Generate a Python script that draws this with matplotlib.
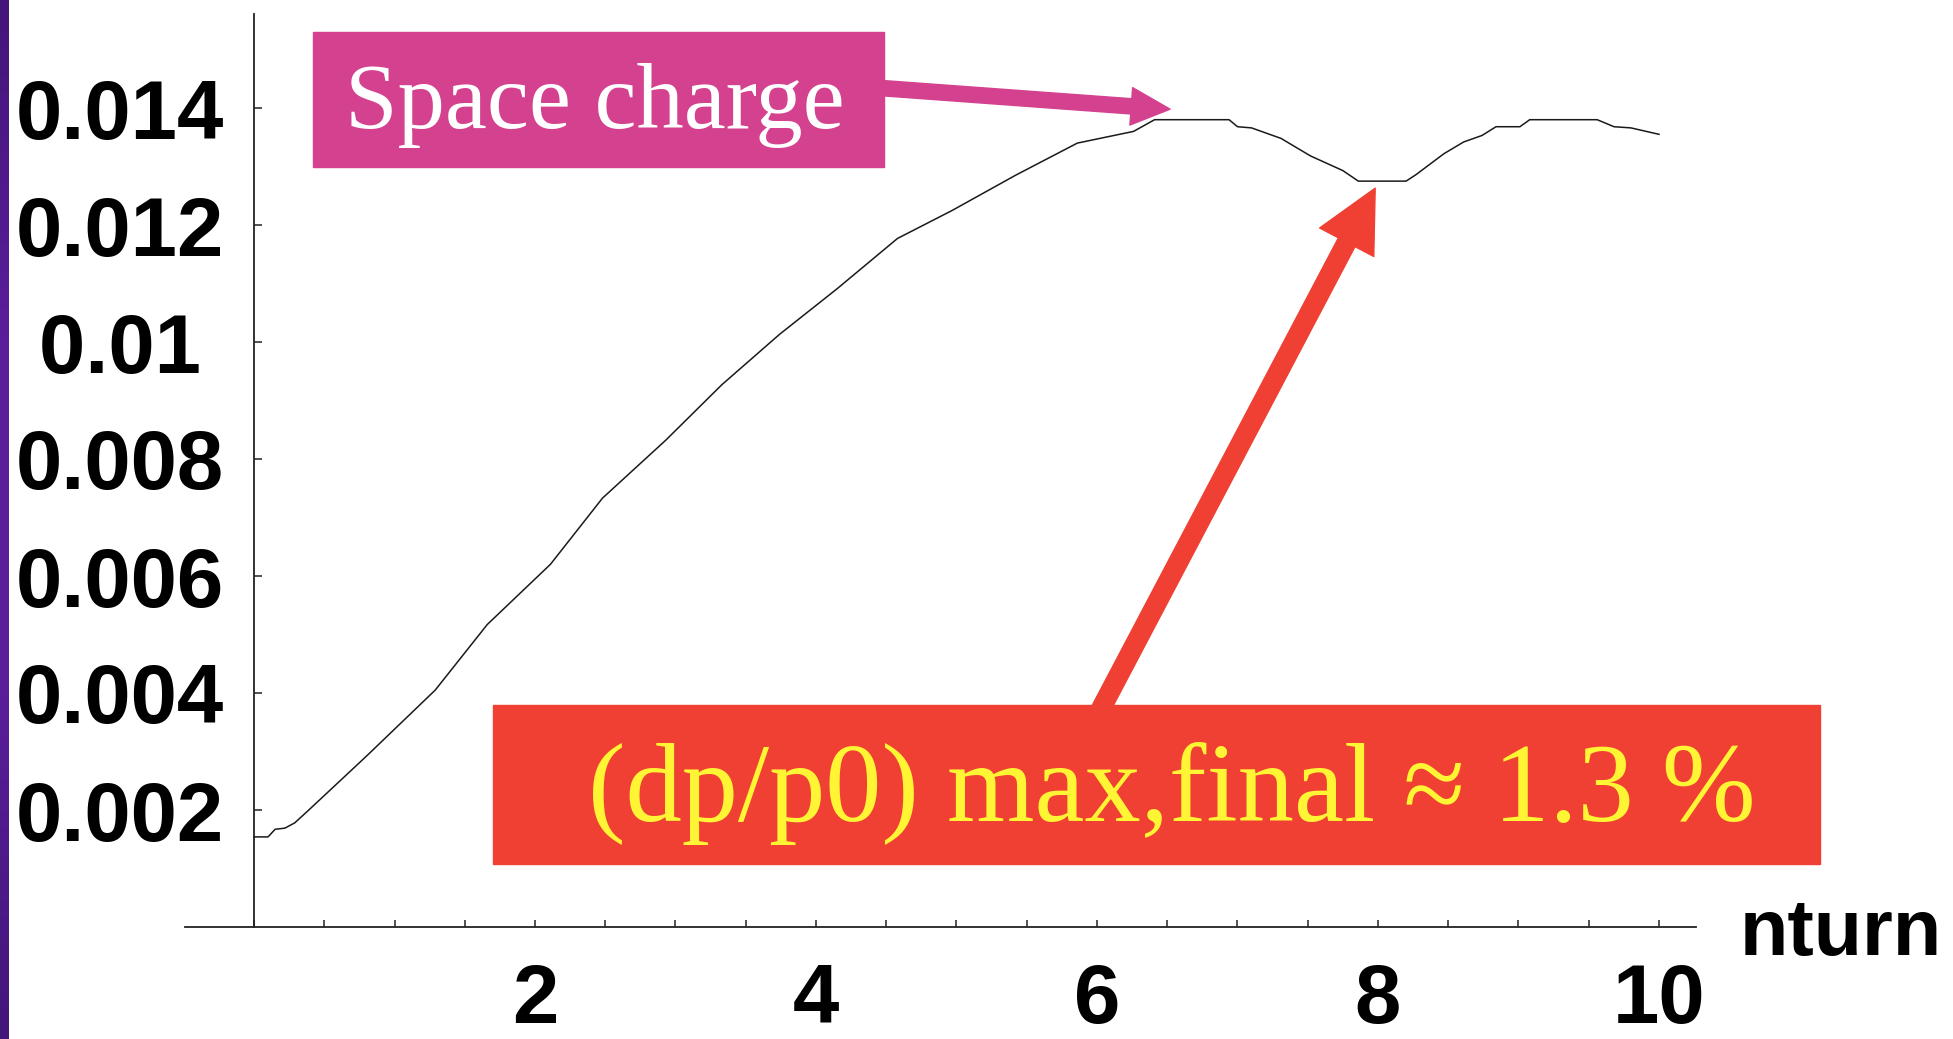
import numpy as np
import matplotlib
matplotlib.use("Agg")
import matplotlib.pyplot as plt
from matplotlib.patches import Rectangle, FancyArrowPatch, ArrowStyle
from matplotlib.colors import LinearSegmentedColormap
from matplotlib.ticker import MultipleLocator

# ------------------------------
# data
# ------------------------------
nturn = [0.0, 0.10, 0.15, 0.22, 0.29, 0.39, 0.80, 1.29, 1.66, 2.11, 2.48,
         2.93, 3.33, 3.74, 4.15, 4.58, 4.97, 5.42, 5.86, 6.10, 6.26, 6.32,
         6.41, 6.94, 7.00, 7.10, 7.31, 7.52, 7.75, 7.86, 8.20, 8.27, 8.47,
         8.61, 8.74, 8.84, 9.01, 9.08, 9.56, 9.68, 9.80, 10.0]
dp_p0 = [0.00154, 0.00154, 0.00167, 0.00169, 0.00178, 0.00200, 0.00292,
         0.00405, 0.00517, 0.00620, 0.00733, 0.00832, 0.00927, 0.01013,
         0.01091, 0.01177, 0.01225, 0.01285, 0.01340, 0.01352, 0.01360,
         0.01368, 0.01380, 0.01380, 0.01368, 0.01366, 0.01348, 0.01318,
         0.01293, 0.01275, 0.01275, 0.01286, 0.01322, 0.01342, 0.01353,
         0.01368, 0.01368, 0.01380, 0.01380, 0.01368, 0.01366, 0.01355]

x_ticks = [2, 4, 6, 8, 10]
y_ticks = [0.002, 0.004, 0.006, 0.008, 0.010, 0.012, 0.014]
y_tick_labels = ["0.002", "0.004", "0.006", "0.008", "0.01 ", "0.012", "0.014"]

sc_label = "Space charge"
dp_label = "(dp/p0) max,final \u2248 1.3 %"

# ------------------------------
# figure / axes layout (pixels)
# ------------------------------
W, H = 1953, 1039
ox, oy = 254, 927          # pixel of data origin
sx, sy = 140.5, 58500.0    # pixels per data unit
xlim = (-0.49, 10.26)
ylim = (0.0, 0.0156)

fig = plt.figure(figsize=(W / 100, H / 100), dpi=100, facecolor="white")
left_px = ox + sx * xlim[0]
right_px = ox + sx * xlim[1]
top_px = oy - sy * ylim[1]
ax = fig.add_axes([left_px / W, (H - oy) / H,
                   (right_px - left_px) / W, (oy - top_px) / H])
ax.set_xlim(*xlim)
ax.set_ylim(*ylim)
ax.patch.set_alpha(0)

axis_col = "#222222"
for s in ["top", "right"]:
    ax.spines[s].set_visible(False)
ax.spines["left"].set_position(("data", 0))
for s in ["left", "bottom"]:
    ax.spines[s].set_color(axis_col)
    ax.spines[s].set_linewidth(1.3)

tick_font = dict(family="Liberation Sans", weight="bold", size=60)
ax.set_xticks(x_ticks, [str(t) for t in x_ticks], **tick_font)
ax.set_yticks(y_ticks, y_tick_labels, **tick_font)
ax.xaxis.set_minor_locator(MultipleLocator(0.5))
ax.tick_params(axis="x", which="both", direction="in", length=5,
               width=1.1, color=axis_col, pad=25)
ax.tick_params(axis="y", which="both", direction="in", length=5.8,
               width=1.1, color=axis_col, pad=21.6)

# curve
ax.plot(nturn, dp_p0, color="#1a1a1a", lw=1.1, zorder=3)

ax.text(10.575, -0.000479, "nturn", ha="left", va="baseline",
        clip_on=False, family="Liberation Sans", weight="bold", size=57)

# ------------------------------
# annotations
# ------------------------------
pink = "#D4418E"
red = "#EF4033"

ax.add_patch(Rectangle((0.420, 0.01299), 4.064, 0.00231, color=pink,
                       clip_on=False, zorder=5))
ax.text(0.648, 0.01366, sc_label, ha="left", va="baseline", color="white",
        family="Liberation Serif", size=68, zorder=6, clip_on=False)
ax.add_patch(FancyArrowPatch(
    (4.47, 0.01434), (6.52, 0.01398),
    arrowstyle=ArrowStyle.Simple(head_length=28, head_width=27, tail_width=11),
    mutation_scale=1, color=pink, shrinkA=0, shrinkB=0,
    clip_on=False, zorder=5))

ax.add_patch(FancyArrowPatch(
    (6.0, 0.0036), (7.98, 0.01263),
    arrowstyle=ArrowStyle.Simple(head_length=44, head_width=44, tail_width=13.5),
    mutation_scale=1, color=red, shrinkA=0, shrinkB=0,
    clip_on=False, zorder=5))
ax.add_patch(Rectangle((1.701, 0.00108), 9.445, 0.00272, color=red,
                       clip_on=False, zorder=6))
ax.text(2.377, 0.00181, dp_label, ha="left", va="baseline", color="#FFF534",
        family="Liberation Serif", size=81, zorder=7, clip_on=False)

# purple slide edge on the left
strip = fig.add_axes([0, 0, 9 / W, 1])
cmap = LinearSegmentedColormap.from_list(
    "edge", ["#44157a", "#5b1e9c", "#5a1e9a", "#43167a"])
strip.imshow(np.linspace(0, 1, 256)[:, None], aspect="auto", cmap=cmap)
strip.axis("off")

fig.savefig("out.png", dpi=100)
